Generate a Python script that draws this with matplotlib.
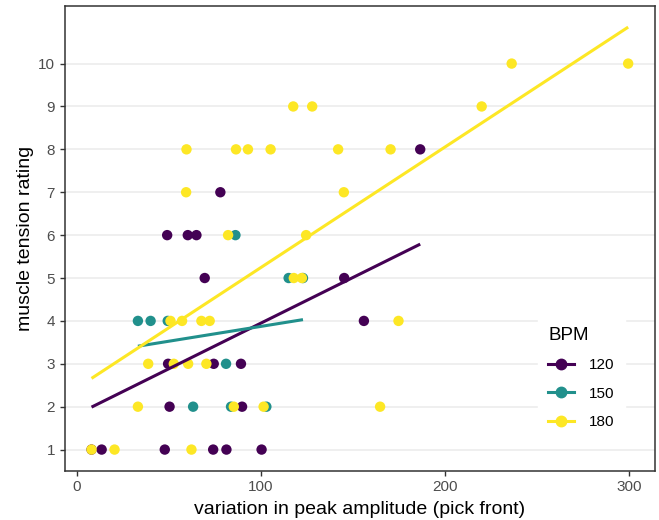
import numpy as np
import matplotlib
matplotlib.use("Agg")
import matplotlib.pyplot as plt
from matplotlib.lines import Line2D

plt.rcParams['font.family'] = ['Liberation Sans', 'DejaVu Sans']

# variation in peak amplitude (x) and muscle tension rating (y), by BPM
x_120 = [8.1, 13.6, 47.9, 74.2, 81.4, 100.5, 50.5, 89.9, 49.7, 74.5, 89.3,
         156.1, 69.6, 145.4, 49.2, 60.4, 65.1, 78.1, 186.7]
y_120 = [1, 1, 1, 1, 1, 1, 2, 2, 3, 3, 3, 4, 5, 5, 6, 6, 6, 7, 8]

x_150 = [63.3, 83.9, 103.1, 81.2, 33.3, 40.2, 49.5, 115.2, 123.0, 86.3]
y_150 = [2, 2, 2, 3, 4, 4, 4, 5, 5, 6]

x_180 = [8.1, 20.6, 62.4, 33.3, 85.4, 101.6, 164.9, 38.9, 52.8, 60.6, 70.5,
         51.0, 57.3, 67.8, 72.3, 174.9, 118.0, 122.4, 82.3, 124.7, 59.5, 145.2,
         59.7, 86.6, 93.1, 105.4, 142.1, 170.6, 117.7, 128.0, 220.1, 236.4, 299.7]
y_180 = [1, 1, 1, 2, 2, 2, 2, 3, 3, 3, 3, 4, 4, 4, 4, 4, 5, 5, 6, 6, 7, 7,
         8, 8, 8, 8, 8, 8, 9, 9, 9, 10, 10]

# rectas lm por grupo (extremos)
fit_x = [[8.1, 186.7], [33.3, 123.0], [8.1, 299.7]]
fit_y = [[1.99, 5.79], [3.41, 4.03], [2.66, 10.85]]

bpm_labels = ["120", "150", "180"]
colores = ["#440154", "#21908C", "#FDE725"]

grupos = [(x_120, y_120), (x_150, y_150), (x_180, y_180)]

fig = plt.figure(figsize=(6.59, 5.2), dpi=100)
ax = fig.add_axes([64.7 / 659, 1 - 470.7 / 520, (655 - 64.7) / 659, (470.7 - 6) / 520])

# puntos
for (xs, ys), c in zip(grupos, colores):
    ax.scatter(xs, ys, s=56, color=c, edgecolors="none", zorder=3)

# rectas
for fx, fy, c in zip(fit_x, fit_y, colores):
    ax.plot(fx, fy, color=c, lw=2.2, zorder=4, solid_capstyle="butt")

ax.set_xticks([0, 100, 200, 300])
ax.set_yticks(range(1, 11))
ax.yaxis.grid(True, color="#EBEBEB", lw=1.1)
ax.set_axisbelow(True)
ax.tick_params(colors="#333333", labelcolor="#4D4D4D", labelsize=11, length=3.5, width=1)
for s in ax.spines.values():
    s.set_color("#333333")
    s.set_linewidth(1.1)

ax.set_xlabel("variation in peak amplitude (pick front)", fontsize=14, labelpad=5)
ax.set_ylabel("muscle tension rating", fontsize=14, labelpad=3)

handles = [Line2D([0], [0], color=c, lw=2.2, marker="o", markersize=7.5) for c in colores]
leg = ax.legend(handles, bpm_labels, title="BPM", loc="lower right",
                bbox_to_anchor=(0.949, 0.066), frameon=True, fontsize=11,
                title_fontsize=13.5, handlelength=1.7, labelspacing=0.95,
                borderpad=0.7, handletextpad=0.95, borderaxespad=0)
leg.get_frame().set_edgecolor("white")
leg.get_frame().set_facecolor("white")
leg.get_frame().set_alpha(1)
leg.get_frame().set_boxstyle("square", pad=0)
leg._legend_box.align = "left"

plt.savefig("out.png", dpi=100)
